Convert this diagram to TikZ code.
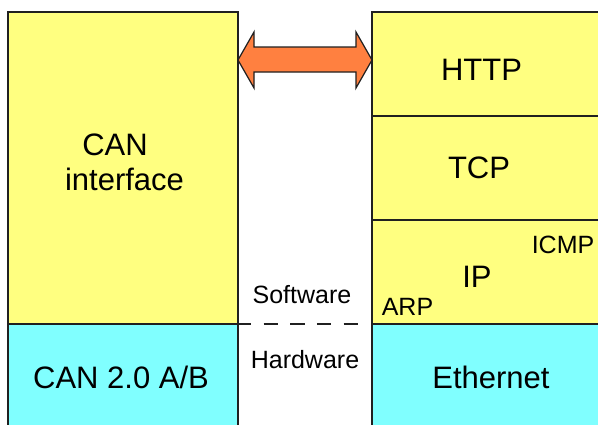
\documentclass[tikz,border=0pt]{standalone}
\usepackage{fontspec}
\setmainfont{Liberation Sans}
\definecolor{lyellow}{HTML}{FFFF80}
\definecolor{lcyan}{HTML}{80FFFF}
\definecolor{aorange}{HTML}{FF8040}
\definecolor{edge}{HTML}{202020}
\tikzset{
  layer/.style={draw=edge, line width=1.6pt},
  big/.style={anchor=base, inner sep=0pt, font=\fontsize{31}{36}\selectfont},
  small/.style={anchor=base, inner sep=0pt, font=\fontsize{25}{30}\selectfont},
}
\begin{document}
\begin{tikzpicture}[x=1pt,y=-1pt]
\useasboundingbox (0,0) rectangle (598,424);
\clip (0,0) rectangle (598,424);
\fill[white] (0,0) rectangle (598,424);
% left stack
\filldraw[layer, fill=lyellow] (8,12) rectangle (238,324);
\filldraw[layer, fill=lcyan] (8,324) rectangle (238,440);
% right stack
\filldraw[layer, fill=lyellow] (372,12) rectangle (610,116);
\filldraw[layer, fill=lyellow] (372,116) rectangle (610,220);
\filldraw[layer, fill=lyellow] (372,220) rectangle (610,324);
\filldraw[layer, fill=lcyan] (372,324) rectangle (610,440);
% double arrow
\filldraw[fill=aorange, draw=edge, line width=1.2pt, line join=miter]
  (238,60) -- (254,32) -- (254,47) -- (356,47) -- (356,32) -- (372,60)
  -- (356,88) -- (356,72) -- (254,72) -- (254,88) -- cycle;
% software / hardware boundary
\coordinate (dl) at (238,324);
\coordinate (dr) at (359,324);
\draw[edge, line width=1.6pt, dash pattern=on 14.5pt off 12.2pt, dash phase=1.2pt] (dl) -- (dr);
% texts
\node[big] (can) at (115,155) {CAN};
\node[big] (iface) at (124.5,190) {interface};
\node[big] (can20) at (121,388) {CAN 2.0 A/B};
\node[big] (http) at (481.5,80) {HTTP};
\node[big] (tcp) at (479,178) {TCP};
\node[big] (ip) at (477,287) {IP};
\node[small] (icmp) at (563,253) {ICMP};
\node[small] (arp) at (407.5,315) {ARP};
\node[big] (eth) at (491,388) {Ethernet};
\node[small] (sw) at (302,303) {Software};
\node[small] (hw) at (305,368) {Hardware};
\end{tikzpicture}
\end{document}
